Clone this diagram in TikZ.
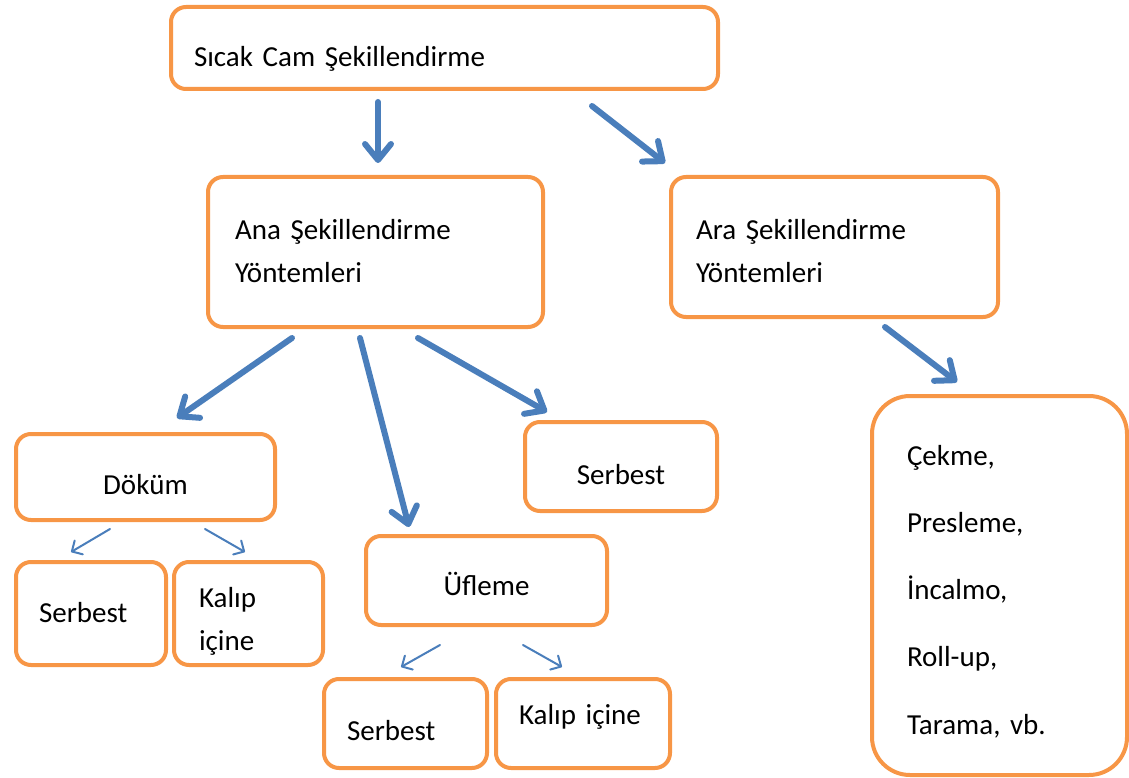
\documentclass[tikz,border=0pt]{standalone}
\usepackage{fontspec}
\setmainfont{Carlito}
\usepackage{tikz}
\usetikzlibrary{arrows.meta, positioning, calc}
\usepackage{xcolor}
\definecolor{boxorange}{HTML}{F79646}
\definecolor{arrowblue}{HTML}{4A7EBB}
\frenchspacing

\begin{document}
\begin{tikzpicture}[
    x=1pt, y=-1pt,
    font=\fontsize{29}{43}\selectfont,
    box/.style={
        rectangle, draw=boxorange, line width=4pt,
        fill=white,
        rounded corners=15pt,
        anchor=north west,
        inner ysep=0pt,
        align=left
    },
    midbox/.style={
        box,
        inner xsep=0pt,
        align=center
    },
    bigbox/.style={
        box,
        rounded corners=38pt,
        font=\fontsize{29}{67.25}\selectfont
    },
    arr/.style={
        -{Straight Barb[length=16pt, width=26pt, round]},
        line width=6pt, line cap=round,
        draw=arrowblue
    },
    thinarr/.style={
        -{Straight Barb[length=8pt, width=16pt, round]},
        line width=2pt, line cap=round,
        draw=arrowblue
    }
]
\useasboundingbox (0,0) rectangle (1129,778);

% ==========================================
% TOP LEVEL
% ==========================================

\node[box, inner xsep=23pt, text width=501pt, text height=60pt, text depth=22pt]
  (sicak) at (169,5) {Sıcak Cam Şekillendirme};

\node[box, inner xsep=27pt, text width=281pt, text height=62pt, text depth=88pt]
  (ana) at (206,175) {Ana Şekillendirme\\Yöntemleri};

\node[box, inner xsep=25pt, text width=277pt, text height=62pt, text depth=78pt]
  (ara) at (669,175) {Ara Şekillendirme\\Yöntemleri};

% ==========================================
% MAIN METHODS
% ==========================================

\node[midbox, text width=259pt, text height=60pt, text depth=26pt]
  (dokum) at (14,432) {Döküm};

\node[midbox, text width=241pt, text height=59pt, text depth=30pt]
  (ufleme) at (364,534) {Üfleme};

\node[midbox, text width=192pt, text height=62pt, text depth=27pt]
  (serbest) at (523,420) {Serbest};

% sub methods
\node[box, inner xsep=23pt, text width=104pt, text height=60pt, text depth=43pt]
  (dokum_serbest) at (14,560) {Serbest};

\node[box, inner xsep=25pt, text width=99pt, text height=45pt, text depth=58pt]
  (dokum_kalip) at (172,560) {Kalıp\\içine};

\node[box, inner xsep=23pt, text width=117pt, text height=61pt, text depth=28pt]
  (ufleme_serbest) at (322,677) {Serbest};

\node[box, inner xsep=23pt, text width=128pt, text height=45pt, text depth=44pt]
  (ufleme_kalip) at (494,677) {Kalıp içine};

% ==========================================
% INTERMEDIATE METHODS
% ==========================================

\node[bigbox, inner xsep=35pt, text width=185pt, text height=69pt, text depth=310pt]
  (ara_list) at (870,394)
  {Çekme,\\Presleme,\\İncalmo,\\Roll-up,\\Tarama, vb.};

% ==========================================
% CONNECTIONS
% ==========================================

\draw[arr] ($(sicak.south west)+(209,11)$) -- ($(ana.north west)+(172,-12)$);
\draw[arr] ($(sicak.south west)+(423,15)$) -- ($(ara.north west)+(-4,-12)$);

\draw[arr] ($(ana.south west)+(86,9)$) -- ($(dokum.north west)+(163,-14)$);
\draw[arr] ($(ana.south west)+(154,9)$) -- ($(ufleme.north west)+(45,-7)$);
\draw[arr] ($(ana.south west)+(212,9)$) -- ($(serbest.north west)+(24,-8)$);

\draw[arr] ($(ara.south west)+(216,8)$) -- ($(ara_list.north west)+(87,-12)$);

% thin arrows to sub methods
\draw[thinarr] ($(dokum.south west)+(96,7)$) -- ($(dokum_serbest.north west)+(57,-8)$);
\draw[thinarr] ($(dokum.south west)+(191,7)$) -- ($(dokum_kalip.north west)+(73,-8)$);
\draw[thinarr] ($(ufleme.south west)+(76,18)$) -- ($(ufleme_serbest.north west)+(79,-10)$);
\draw[thinarr] ($(ufleme.south west)+(159,18)$) -- ($(ufleme_kalip.north west)+(68,-10)$);

\end{tikzpicture}
\end{document}
